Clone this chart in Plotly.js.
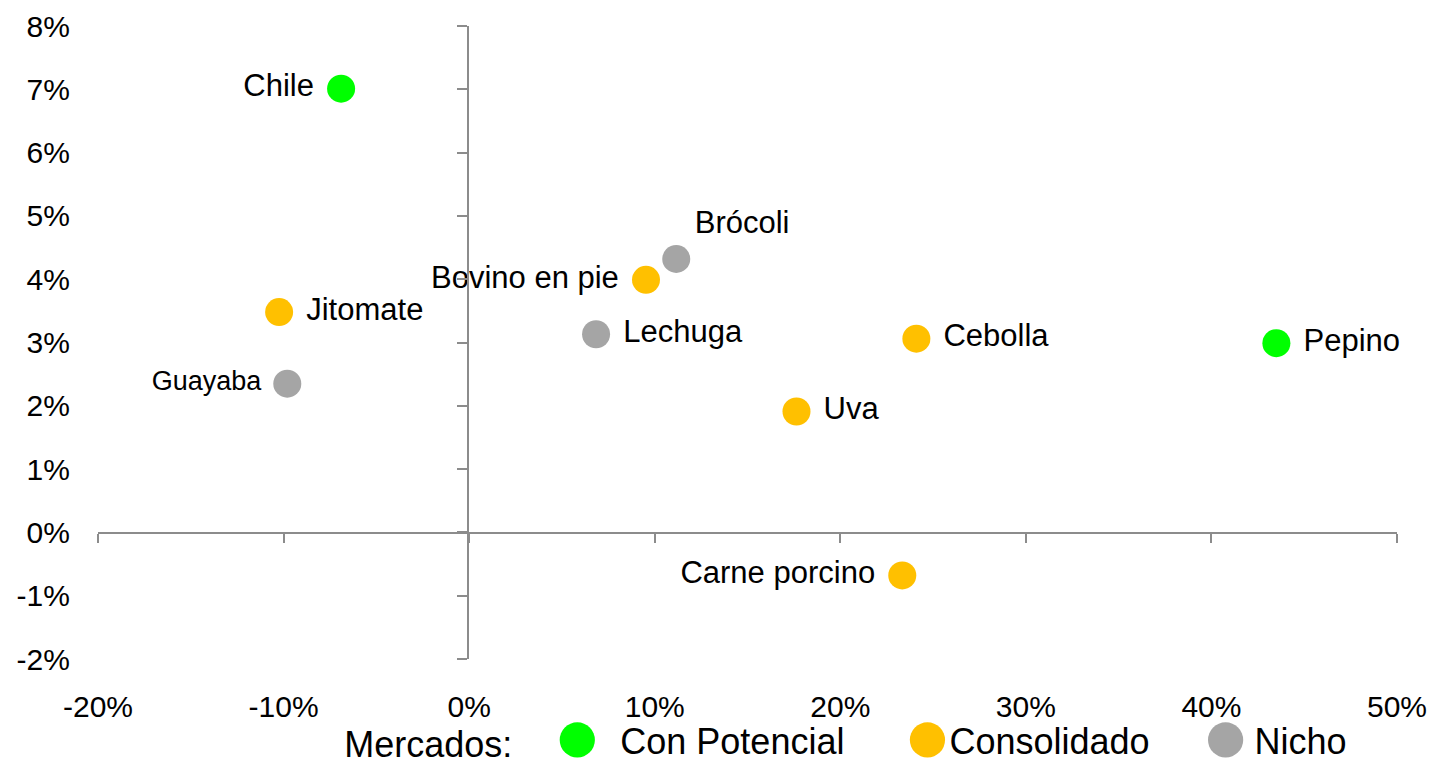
<!DOCTYPE html>
<html>
<head>
<meta charset="utf-8">
<script src="https://cdn.plot.ly/plotly-3.0.1.min.js"></script>
<style>
html,body{margin:0;padding:0;background:#fff;}
#chart{width:1432px;height:758px;}
</style>
</head>
<body>
<div id="chart"></div>
<script>
// Data (x: growth, y: share change)
var potencialNames = ["Chile", "Pepino"];
var potencialX = [-0.069, 0.435];
var potencialY = [0.0701, 0.0299];
var potencialPos = ["middle left", "middle right"];

var consolidadoNames = ["Jitomate", "Bovino en pie", "Uva", "Cebolla", "Carne porcino"];
var consolidadoX = [-0.1024, 0.0953, 0.1764, 0.241, 0.2334];
var consolidadoY = [0.0348, 0.0399, 0.0191, 0.0306, -0.0068];
var consolidadoPos = ["middle right", "middle left", "middle right", "middle right", "middle left"];

var nichoNames = ["Guayaba", "Brócoli", "Lechuga"];
var nichoX = [-0.098, 0.1116, 0.0684];
var nichoY = [0.0235, 0.0432, 0.0313];
var nichoPos = ["middle left", "top right", "middle right"];
var nichoTextSize = [27, 31, 31];

var xTicks = [-0.2, -0.1, 0, 0.1, 0.2, 0.3, 0.4, 0.5];
var xTickLabels = ["-20%", "-10%", "0%", "10%", "20%", "30%", "40%", "50%"];
var yTicks = [-0.02, -0.01, 0, 0.01, 0.02, 0.03, 0.04, 0.05, 0.06, 0.07, 0.08];
var yTickLabels = ["-2%", "-1%", "0%", "1%", "2%", "3%", "4%", "5%", "6%", "7%", "8%"];

var FONT = "Liberation Sans, Arial, sans-serif";
var AXC = "#8c8c8c";
var NB = "\u00a0";

function padLabel(name, pos) {
  if (pos.indexOf("left") >= 0) return name + NB;
  if (pos === "middle right") return NB + name;
  return name;
}

function series(name, xs, ys, labels, pos, color, tsize) {
  return {
    type: "scatter", mode: "markers+text", name: name,
    x: xs, y: ys,
    text: labels.map(function (l, i) { return padLabel(l, pos[i]); }),
    textposition: pos,
    textfont: {family: FONT, size: tsize || 31, color: "#000"},
    marker: {size: 28, color: color, line: {width: 0}},
    cliponaxis: false, hoverinfo: "text"
  };
}

var data = [
  series("Con Potencial" + NB.repeat(6), potencialX, potencialY, potencialNames, potencialPos, "#00ff00"),
  series("Consolidado" + NB.repeat(6), consolidadoX, consolidadoY, consolidadoNames, consolidadoPos, "#ffc000"),
  series("Nicho", nichoX, nichoY, nichoNames, nichoPos, "#a5a5a5", nichoTextSize)
];

var layout = {
  width: 1432, height: 758,
  margin: {l: 98, r: 35, t: 26, b: 99, autoexpand: false},
  paper_bgcolor: "#fff", plot_bgcolor: "#fff",
  font: {family: FONT, size: 30, color: "#000"},
  showlegend: true,
  legend: {
    orientation: "h", x: 0.188, xanchor: "left", y: -0.0806, yanchor: "top",
    font: {family: FONT, size: 36, color: "#000"},
    title: {text: "Mercados:" + NB.repeat(6), side: "left", font: {family: FONT, size: 36, color: "#000"}},
    itemclick: false, itemdoubleclick: false,
    tracegroupgap: 0, bgcolor: "rgba(0,0,0,0)"
  },
  xaxis: {
    range: [-0.2, 0.5], tickvals: xTicks, ticktext: xTickLabels,
    showgrid: false, zeroline: false, showline: true, linecolor: AXC, linewidth: 2,
    ticks: "outside", ticklen: 9, tickwidth: 2, tickcolor: AXC,
    anchor: "free", position: 0.199, ticklabelstandoff: 138,
    tickfont: {family: FONT, size: 30, color: "#000"}, automargin: false, fixedrange: true
  },
  yaxis: {
    range: [-0.02, 0.08], tickvals: yTicks, ticktext: yTickLabels,
    showgrid: false, zeroline: false, showline: true, linecolor: AXC, linewidth: 2,
    ticks: "outside", ticklen: 10, tickwidth: 2, tickcolor: AXC,
    anchor: "free", position: 0.2848, ticklabelstandoff: 381,
    tickfont: {family: FONT, size: 30, color: "#000"}, automargin: false, fixedrange: true
  }
};

// legend symbol x position inside each legend item (px) to mimic the reference spacing
var legendSymbolX = [-3, 18, 11];

Plotly.newPlot("chart", data, layout, {displayModeBar: false, staticPlot: true}).then(function () {
  var pts = document.querySelectorAll(".legend .legendpoints path.scatterpts");
  pts.forEach(function (p, i) {
    var dx = legendSymbolX[i] !== undefined ? legendSymbolX[i] : 20;
    p.setAttribute("transform", "translate(" + dx + ",0) scale(2.2)");
  });
});
</script>
</body>
</html>
